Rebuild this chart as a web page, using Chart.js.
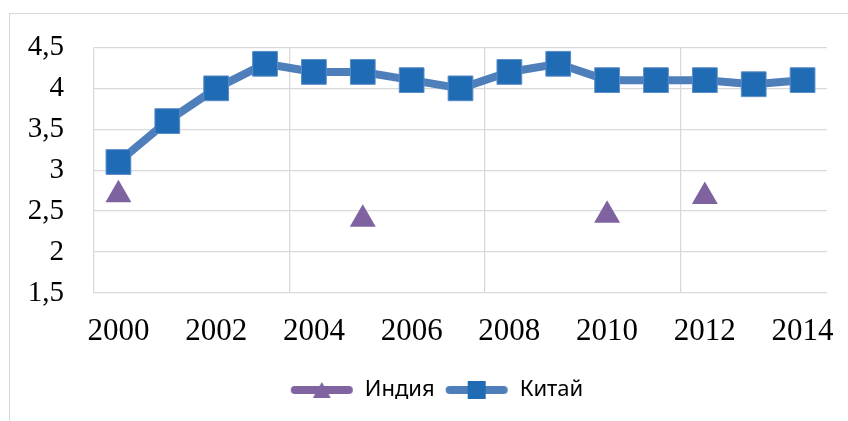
<!DOCTYPE html>
<html>
<head>
<meta charset="utf-8">
<script src="https://cdn.jsdelivr.net/npm/chart.js@4"></script>
<style>
    html, body { margin: 0; padding: 0; background: #fff; overflow: hidden; }
    #wrap { position: absolute; left: 0; top: 0; width: 872px; height: 421px; }
    #frame { position: absolute; left: 9px; top: 13px; width: 900px; height: 430px; border: 1px solid #d9d9d9; box-sizing: border-box; }
</style>
</head>
<body>
<div id="frame"></div>
<div id="wrap"><canvas id="chart" width="872" height="421"></canvas></div>
<script>
const years = ['2000', '2001', '2002', '2003', '2004', '2005', '2006', '2007', '2008', '2009', '2010', '2011', '2012', '2013', '2014'];
const china = [3.1, 3.6, 4.0, 4.3, 4.2, 4.2, 4.1, 4.0, 4.2, 4.3, 4.1, 4.1, 4.1, 4.05, 4.1];
const india = [2.7, null, null, null, null, 2.4, null, null, null, null, 2.45, null, 2.68, null, null];
const seriesNames = ['Индия', 'Китай'];

const indiaColor = '#7f63a1';
const chinaLine = '#4f7fba';
const chinaMarker = '#1f6bb4';

// legend icon: thick line with marker in the middle
function legendIcon(lineColor, markerColor, shape) {
    const c = document.createElement('canvas');
    c.width = 64; c.height = 22;
    const g = c.getContext('2d');
    g.strokeStyle = lineColor;
    g.lineWidth = 8;
    g.lineCap = 'round';
    g.beginPath(); g.moveTo(5, 11); g.lineTo(59, 11); g.stroke();
    g.fillStyle = markerColor;
    if (shape === 'tri') {
        g.beginPath(); g.moveTo(32, 3); g.lineTo(41, 19); g.lineTo(23, 19); g.closePath(); g.fill();
    } else {
        g.fillRect(23, 2, 18, 18);
    }
    return c;
}
const icons = [legendIcon('#8064a2', '#8064a2', 'tri'), legendIcon(chinaLine, chinaMarker, 'sq')];

// legend sits centred on the whole (cropped) frame, not the plot
const shiftLegend = {
    id: 'shiftLegend',
    afterLayout(chart) {
        chart.legend.left += 23;
        chart.legend.right += 23;
    }
};

new Chart(document.getElementById('chart'), {
    type: 'line',
    data: {
        labels: years,
        datasets: [{
            label: seriesNames[0],
            data: india,
            showLine: false,
            pointStyle: 'triangle',
            pointRadius: 15,
            pointHoverRadius: 15,
            backgroundColor: indiaColor,
            borderColor: indiaColor,
            pointBorderWidth: 0
        }, {
            label: seriesNames[1],
            data: china,
            borderColor: chinaLine,
            borderWidth: 8,
            pointStyle: 'rect',
            pointRadius: 17.5,
            pointHoverRadius: 17.5,
            pointBackgroundColor: chinaMarker,
            pointBorderColor: '#5a8cc8',
            pointBorderWidth: 1
        }]
    },
    plugins: [shiftLegend],
    options: {
        responsive: false,
        animation: false,
        layout: { padding: { left: 0, top: 42, right: 45, bottom: 10 } },
        plugins: {
            tooltip: { enabled: false },
            legend: {
                position: 'bottom',
                labels: {
                    usePointStyle: true,
                    pointStyleWidth: 64,
                    padding: 10,
                    color: '#000',
                    font: { family: '"Noto Sans"', size: 22 },
                    generateLabels: chart => chart.data.datasets.map((ds, i) => ({
                        text: ds.label,
                        pointStyle: icons[i],
                        datasetIndex: i,
                        hidden: false,
                        lineWidth: 0
                    }))
                }
            }
        },
        scales: {
            x: {
                offset: true,
                border: { display: false },
                grid: {
                    offset: true,
                    drawTicks: false,
                    lineWidth: 1.3,
                    color: ctx => (ctx.index % 4 === 0 && ctx.index < years.length) ? '#d9d9d9' : 'rgba(0,0,0,0)'
                },
                ticks: {
                    autoSkip: false,
                    maxRotation: 0,
                    padding: 20,
                    color: '#000',
                    font: { family: '"Liberation Serif"', size: 31 },
                    callback: (v, i) => i % 2 === 0 ? years[i] : ''
                },
                afterFit: s => { s.height = 76; }
            },
            y: {
                min: 1.5,
                max: 4.5,
                border: { display: false },
                grid: { drawTicks: false, color: '#d9d9d9', lineWidth: 1.3 },
                ticks: {
                    stepSize: 0.5,
                    padding: 30,
                    color: '#000',
                    font: { family: '"Liberation Serif"', size: 29 },
                    callback: v => String(v).replace('.', ',')
                },
                afterFit: s => { s.width = 94; }
            }
        }
    }
});
</script>
</body>
</html>
